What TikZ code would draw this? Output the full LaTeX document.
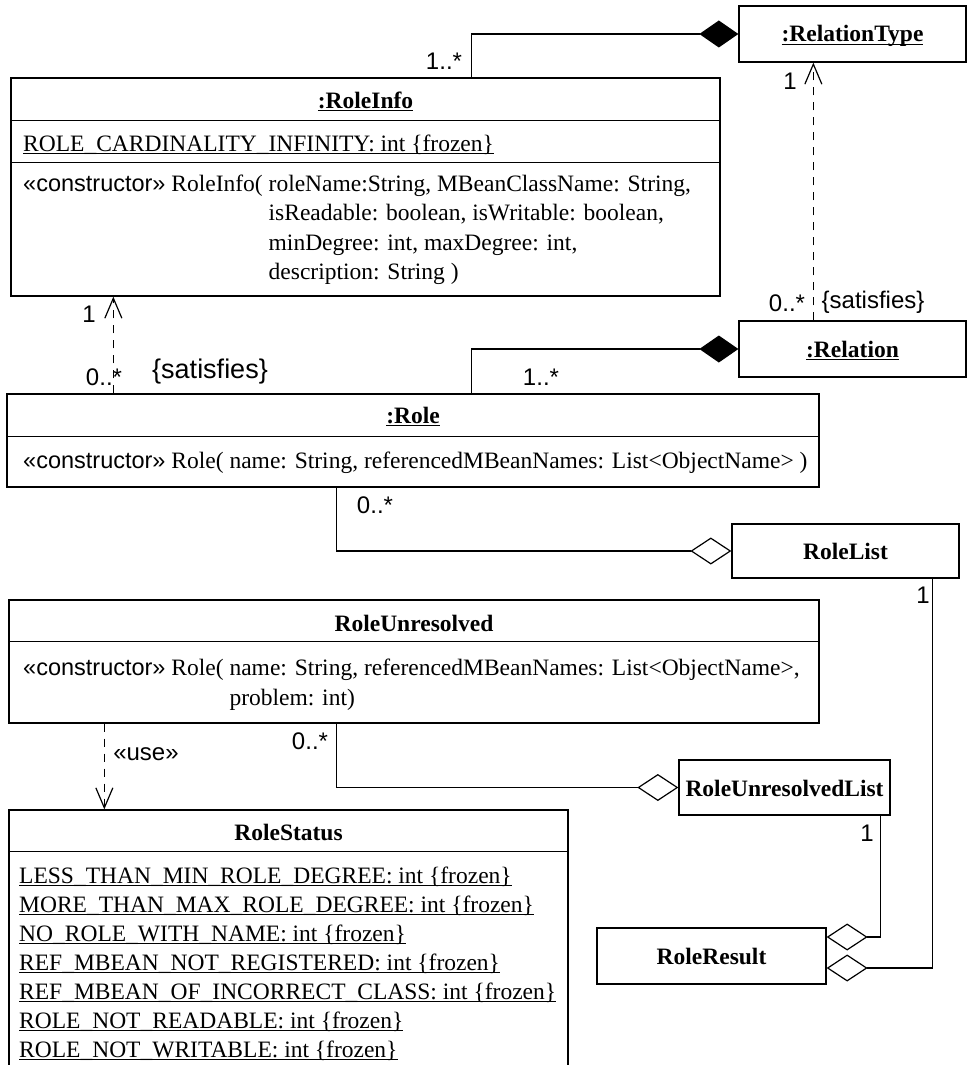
\documentclass[tikz,border=0pt]{standalone}
\usepackage{fontspec}
\setmainfont{Liberation Serif}
\setsansfont{Liberation Sans}
\usetikzlibrary{arrows.meta}
% underline at a fixed distance below the baseline
\newcommand{\uln}[1]{\setbox0\hbox{#1}\rlap{\rule[-3pt]{\wd0}{1.1pt}}\box0}
\newcommand{\ctor}{{\sffamily «constructor»}}
\begin{document}
\begin{tikzpicture}[x=1pt,y=-1pt,
  box/.style={draw,line width=1.3pt,inner sep=0pt},
  sep/.style={line width=1.3pt},
  body/.style={inner sep=0pt,anchor=base west,font=\fontsize{23.5}{29}\selectfont},
  title/.style={inner sep=0pt,anchor=base,font=\fontsize{23.5}{29}\selectfont\bfseries},
  mult/.style={inner sep=0pt,anchor=base,font=\fontsize{24}{28}\sffamily},
  link/.style={line width=1.2pt},
  comp/.style={link,-{Diamond[length=39pt,width=27pt]}},
  agg/.style={link,-{Diamond[open,length=41pt,width=27pt,fill=white]}},
  dep/.style={link,dash pattern=on 8pt off 7pt,-{Straight Barb[length=20pt,width=17pt]}}]
\useasboundingbox (0,0) rectangle (970,1065);
\clip (0,0) rectangle (970,1065);
\fill[white] (0,0) rectangle (970,1065);

% ---- boxes ----
\node[box,minimum width=227pt,minimum height=56pt] (rt) at (852.5,34) {};
\node[box,minimum width=709pt,minimum height=218pt] (ri) at (365.5,187) {};
\node[box,minimum width=227pt,minimum height=56pt] (rel) at (852.5,349) {};
\node[box,minimum width=812pt,minimum height=93pt] (ro) at (413,440.5) {};
\node[box,minimum width=227pt,minimum height=54pt] (rl) at (845.5,551) {};
\node[box,minimum width=810pt,minimum height=123pt] (ru) at (414,661.5) {};
\node[box,minimum width=211pt,minimum height=55pt] (rul) at (784.5,787.5) {};
\node[box,minimum width=229pt,minimum height=56pt] (rr) at (711.5,956) {};
\node[box,minimum width=559pt,minimum height=300pt] (rs) at (288.5,960) {};

% compartment lines
\draw[sep] ([yshift=-43pt]ri.north west) -- ([yshift=-43pt]ri.north east);
\draw[sep] ([yshift=-85pt]ri.north west) -- ([yshift=-85pt]ri.north east);
\draw[sep] ([yshift=-43pt]ro.north west) -- ([yshift=-43pt]ro.north east);
\draw[sep] ([yshift=-42pt]ru.north west) -- ([yshift=-42pt]ru.north east);
\draw[sep] ([yshift=-42pt]rs.north west) -- ([yshift=-42pt]rs.north east);

% ---- titles ----
\node[title] (trt) at (852.5,42) {\uln{:RelationType}};
\node[title] (tri) at (365.5,108) {\uln{:RoleInfo}};
\node[title] (trel) at (852.5,357) {\uln{:Relation}};
\node[title] (tro) at (413,423) {\uln{:Role}};
\node[title] (trl) at (845.5,559) {RoleList};
\node[title] (tru) at (414,631) {RoleUnresolved};
\node[title] (trul) at (784.5,796) {RoleUnresolvedList};
\node[title] (trr) at (711.5,964) {RoleResult};
\node[title] (trs) at (288.5,840) {RoleStatus};

% ---- RoleInfo ----
\node[body] (ria) at (23,151) {\uln{ROLE\_CARDINALITY\_INFINITY: int \{frozen\}}};
\node[body] (ric1) at (23,191) {\ctor{} RoleInfo( roleName:String, MBeanClassName: String,};
\node[body] (ric2) at (23,220) {\hphantom{\ctor{} RoleInfo( }isReadable: boolean, isWritable: boolean,};
\node[body] (ric3) at (23,250) {\hphantom{\ctor{} RoleInfo( }minDegree: int, maxDegree: int,};
\node[body] (ric4) at (23,279) {\hphantom{\ctor{} RoleInfo( }description: String )};

% ---- Role ----
\node[body] (roc1) at (23,468) {\ctor{} Role( name: String, referencedMBeanNames: List<ObjectName> )};

% ---- RoleUnresolved ----
\node[body] (ruc1) at (23,675) {\ctor{} Role( name: String, referencedMBeanNames: List<ObjectName>,};
\node[body] (ruc2) at (23,705) {\hphantom{\ctor{} Role( }problem: int)};

% ---- RoleStatus ----
\node[body] (rsa1) at (19,883) {\uln{LESS\_THAN\_MIN\_ROLE\_DEGREE: int \{frozen\}}};
\node[body] (rsa2) at (19,912) {\uln{MORE\_THAN\_MAX\_ROLE\_DEGREE: int \{frozen\}}};
\node[body] (rsa3) at (19,941) {\uln{NO\_ROLE\_WITH\_NAME: int \{frozen\}}};
\node[body] (rsa4) at (19,970) {\uln{REF\_MBEAN\_NOT\_REGISTERED: int \{frozen\}}};
\node[body] (rsa5) at (19,999) {\uln{REF\_MBEAN\_OF\_INCORRECT\_CLASS: int \{frozen\}}};
\node[body] (rsa6) at (19,1028) {\uln{ROLE\_NOT\_READABLE: int \{frozen\}}};
\node[body] (rsa7) at (19,1057) {\uln{ROLE\_NOT\_WRITABLE: int \{frozen\}}};

% ---- connectors ----
\draw[comp] ([xshift=461pt]ri.north west) |- (rt.west);
\draw[dep] ([xshift=75pt]rel.north west) -- ([xshift=75pt]rt.south west);
\draw[dep] ([xshift=107pt]ro.north west) -- ([xshift=103pt]ri.south west);
\draw[comp] ([xshift=465pt]ro.north west) |- (rel.west);
\draw[agg] ([xshift=330pt]ro.south west) |- (rl.west);
\draw[agg] ([xshift=328pt]ru.south west) |- (rul.west);
\draw[agg] ([xshift=202pt]rul.south west) |- ([yshift=19pt]rr.east);
\draw[agg] ([xshift=201pt]rl.south west) |- ([yshift=-12pt]rr.east);
\draw[dep] ([xshift=96pt]ru.south west) -- ([xshift=96pt]rs.north west);

% ---- labels ----
\node[mult] (m1) at (444,70) {1..*};
\node[mult] (m2) at (790,89) {1};
\node[mult] (m3) at (787,311) {0..*};
\node[mult] (s1) at (873,308) {\{satisfies\}};
\node[mult] (m4) at (89,322) {1};
\node[mult] (m5) at (104,385) {0..*};
\node[mult,font=\fontsize{27}{30}\sffamily] (s2) at (210,378) {\{satisfies\}};
\node[mult] (m6) at (541,385) {1..*};
\node[mult] (m7) at (375,513) {0..*};
\node[mult] (m8) at (923,603) {1};
\node[mult] (m9) at (310,749) {0..*};
\node[mult] (u1) at (146,760) {«use»};
\node[mult] (m10) at (867,841) {1};
\end{tikzpicture}
\end{document}
